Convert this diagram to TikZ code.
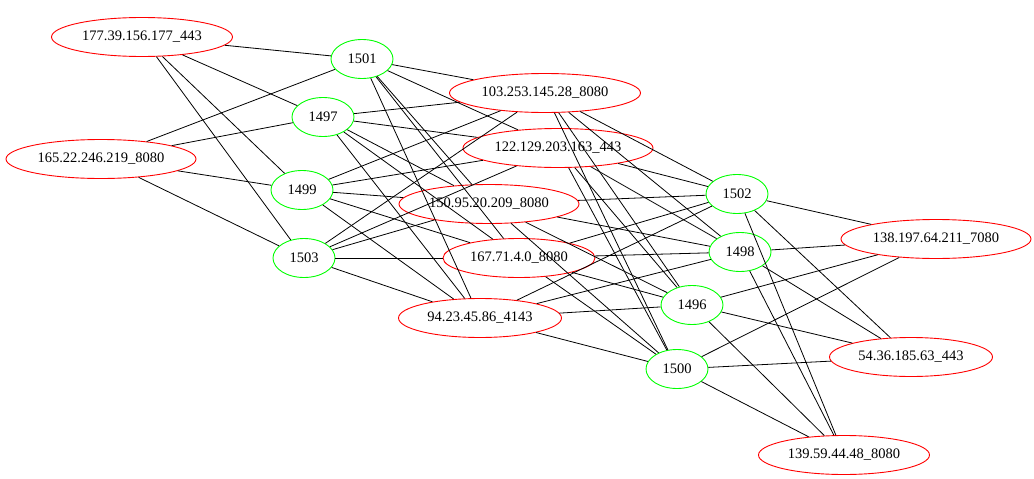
\documentclass[tikz,border=0pt]{standalone}
\usepackage{fontspec}
\setmainfont{Liberation Serif}
\usetikzlibrary{shapes.geometric}
\begin{document}
\begin{tikzpicture}[x=1pt,y=-1pt,
  ip/.style={ellipse,draw=red,line width=0.9pt,minimum height=39pt,inner sep=0pt,font=\fontsize{14.5}{16}\selectfont},
  pid/.style={ellipse,draw=green,line width=0.9pt,minimum width=62pt,minimum height=39pt,inner sep=0pt,font=\fontsize{14.5}{16}\selectfont},
  link/.style={draw=black,line width=0.8pt}]
\useasboundingbox (0,0) rectangle (1034,479);
% red IP nodes
\node[ip,minimum width=181pt] (A) at (142,37) {177.39.156.177\_443};
\node[ip,minimum width=190pt] (B) at (101,159) {165.22.246.219\_8080};
\node[ip,minimum width=191pt] (C) at (545,93) {103.253.145.28\_8080};
\node[ip,minimum width=190pt] (D) at (558,148) {122.129.203.163\_443};
\node[ip,minimum width=180pt] (E) at (489,204) {150.95.20.209\_8080};
\node[ip,minimum width=152pt] (F) at (519,258) {167.71.4.0\_8080};
\node[ip,minimum width=163pt] (G) at (480,318) {94.23.45.86\_4143};
\node[ip,minimum width=190pt] (H) at (936,239) {138.197.64.211\_7080};
\node[ip,minimum width=163pt] (I) at (911,357) {54.36.185.63\_443};
\node[ip,minimum width=171pt] (J) at (844,455) {139.59.44.48\_8080};
% green nodes
\node[pid] (p1501) at (362,59) {1501};
\node[pid] (p1497) at (323,117) {1497};
\node[pid] (p1499) at (302,190) {1499};
\node[pid] (p1503) at (304,258) {1503};
\node[pid] (p1502) at (737,194) {1502};
\node[pid] (p1498) at (740,252) {1498};
\node[pid] (p1496) at (692,305) {1496};
\node[pid] (p1500) at (677,369) {1500};
% connectors
\foreach \r in {A,B}
  \foreach \p in {p1501,p1497,p1499,p1503}
    \draw[link] (\r) -- (\p);
\foreach \r in {C,D,E,F,G}
  \foreach \p in {p1501,p1497,p1499,p1503,p1502,p1498,p1496,p1500}
    \draw[link] (\r) -- (\p);
\foreach \r in {H,I,J}
  \foreach \p in {p1502,p1498,p1496,p1500}
    \draw[link] (\r) -- (\p);
\end{tikzpicture}
\end{document}
